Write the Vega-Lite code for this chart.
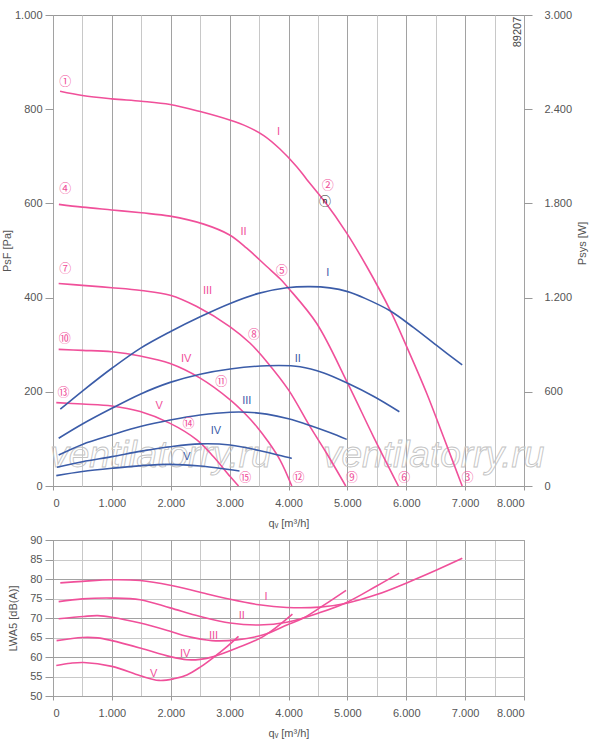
{
  "$schema": "https://vega.github.io/schema/vega-lite/v6.json",
  "padding": {"left": 0, "top": 8, "right": 5, "bottom": 5},
  "background": "white",
  "config": {
    "font": "Liberation Sans",
    "view": {"stroke": "#999", "strokeWidth": 1},
    "axis": {"labelFont": "Liberation Sans", "labelFontSize": 11, "labelColor": "#555", "titleFont": "Liberation Sans", "titleFontSize": 11, "titleFontWeight": "normal", "titleColor": "#555", "tickColor": "#999", "domain": false, "gridColor": "#c8c8c8"}
  },
  "datasets": {
    "pressure": [
      {"curve":"I","q":120,"p":838},{"curve":"I","q":500,"p":829},{"curve":"I","q":1000,"p":822},{"curve":"I","q":1500,"p":817},{"curve":"I","q":1990,"p":810},{"curve":"I","q":2500,"p":795},{"curve":"I","q":3000,"p":777},{"curve":"I","q":3300,"p":763},{"curve":"I","q":3580,"p":744},{"curve":"I","q":3850,"p":716},{"curve":"I","q":4140,"p":678},{"curve":"I","q":4310,"p":651},{"curve":"I","q":4536,"p":616},{"curve":"I","q":4621,"p":603},{"curve":"I","q":4989,"p":537},{"curve":"I","q":5329,"p":466},{"curve":"I","q":5724,"p":374},{"curve":"I","q":6007,"p":296},{"curve":"I","q":6347,"p":197},{"curve":"I","q":6630,"p":105},{"curve":"I","q":6950,"p":0},
      {"curve":"II","q":100,"p":598},{"curve":"II","q":500,"p":592},{"curve":"II","q":1000,"p":586},{"curve":"II","q":1500,"p":580},{"curve":"II","q":1990,"p":573},{"curve":"II","q":2560,"p":556},{"curve":"II","q":3000,"p":533},{"curve":"II","q":3290,"p":505},{"curve":"II","q":3631,"p":466},{"curve":"II","q":3857,"p":440},{"curve":"II","q":4000,"p":420},{"curve":"II","q":4480,"p":345},{"curve":"II","q":5006,"p":218},{"curve":"II","q":5442,"p":105},{"curve":"II","q":5866,"p":0},
      {"curve":"III","q":96,"p":430},{"curve":"III","q":500,"p":426},{"curve":"III","q":1000,"p":421},{"curve":"III","q":1500,"p":415},{"curve":"III","q":1990,"p":405},{"curve":"III","q":2443,"p":381},{"curve":"III","q":3009,"p":338},{"curve":"III","q":3349,"p":303},{"curve":"III","q":3631,"p":264},{"curve":"III","q":4000,"p":204},{"curve":"III","q":4366,"p":126},{"curve":"III","q":4650,"p":69},{"curve":"III","q":4972,"p":0},
      {"curve":"IV","q":96,"p":290},{"curve":"IV","q":500,"p":288},{"curve":"IV","q":1000,"p":285},{"curve":"IV","q":1482,"p":276},{"curve":"IV","q":1990,"p":260},{"curve":"IV","q":2500,"p":229},{"curve":"IV","q":3009,"p":183},{"curve":"IV","q":3250,"p":155},{"curve":"IV","q":3462,"p":126},{"curve":"IV","q":3650,"p":95},{"curve":"IV","q":3857,"p":55},{"curve":"IV","q":4056,"p":0},
      {"curve":"V","q":56,"p":177},{"curve":"V","q":500,"p":174},{"curve":"V","q":1000,"p":170},{"curve":"V","q":1482,"p":158},{"curve":"V","q":1990,"p":133},{"curve":"V","q":2443,"p":98},{"curve":"V","q":2727,"p":62},{"curve":"V","q":3009,"p":20},{"curve":"V","q":3151,"p":0}
    ],
    "power": [
      {"curve":"I","q":124,"w":489},{"curve":"I","q":521,"w":611},{"curve":"I","q":1000,"w":750},{"curve":"I","q":1482,"w":877},{"curve":"I","q":1990,"w":983},{"curve":"I","q":2500,"w":1078},{"curve":"I","q":3009,"w":1163},{"curve":"I","q":3490,"w":1227},{"curve":"I","q":3971,"w":1263},{"curve":"I","q":4366,"w":1270},{"curve":"I","q":4700,"w":1262},{"curve":"I","q":5006,"w":1238},{"curve":"I","q":5300,"w":1195},{"curve":"I","q":5724,"w":1116},{"curve":"I","q":6121,"w":1010},{"curve":"I","q":6516,"w":895},{"curve":"I","q":6950,"w":771},
      {"curve":"II","q":96,"w":304},{"curve":"II","q":500,"w":395},{"curve":"II","q":1000,"w":495},{"curve":"II","q":1482,"w":585},{"curve":"II","q":1990,"w":660},{"curve":"II","q":2500,"w":712},{"curve":"II","q":3009,"w":745},{"curve":"II","q":3631,"w":766},{"curve":"II","q":4197,"w":760},{"curve":"II","q":4600,"w":720},{"curve":"II","q":5006,"w":654},{"curve":"II","q":5450,"w":570},{"curve":"II","q":5883,"w":473},
      {"curve":"III","q":96,"w":197},{"curve":"III","q":500,"w":265},{"curve":"III","q":1000,"w":325},{"curve":"III","q":1500,"w":380},{"curve":"III","q":1990,"w":420},{"curve":"III","q":2500,"w":452},{"curve":"III","q":3009,"w":470},{"curve":"III","q":3300,"w":470},{"curve":"III","q":3631,"w":458},{"curve":"III","q":4000,"w":428},{"curve":"III","q":4366,"w":385},{"curve":"III","q":4700,"w":340},{"curve":"III","q":4989,"w":297},
      {"curve":"IV","q":68,"w":119},{"curve":"IV","q":500,"w":155},{"curve":"IV","q":1000,"w":187},{"curve":"IV","q":1500,"w":222},{"curve":"IV","q":1990,"w":250},{"curve":"IV","q":2500,"w":268},{"curve":"IV","q":3009,"w":261},{"curve":"IV","q":3575,"w":220},{"curve":"IV","q":4056,"w":176},
      {"curve":"V","q":56,"w":66},{"curve":"V","q":500,"w":92},{"curve":"V","q":1000,"w":113},{"curve":"V","q":1500,"w":130},{"curve":"V","q":1990,"w":138},{"curve":"V","q":2500,"w":127},{"curve":"V","q":3168,"w":96}
    ],
    "noise": [
      {"curve":"I","q":124,"db":79.0},{"curve":"I","q":500,"db":79.4},{"curve":"I","q":1000,"db":79.8},{"curve":"I","q":1482,"db":79.6},{"curve":"I","q":1990,"db":78.4},{"curve":"I","q":2500,"db":76.6},{"curve":"I","q":3009,"db":74.8},{"curve":"I","q":3500,"db":73.4},{"curve":"I","q":3971,"db":72.7},{"curve":"I","q":4535,"db":72.8},{"curve":"I","q":4989,"db":73.8},{"curve":"I","q":5498,"db":76.0},{"curve":"I","q":6007,"db":79.0},{"curve":"I","q":6516,"db":82.3},{"curve":"I","q":6952,"db":85.3},
      {"curve":"II","q":96,"db":74.2},{"curve":"II","q":500,"db":74.9},{"curve":"II","q":1000,"db":75.1},{"curve":"II","q":1482,"db":74.7},{"curve":"II","q":1990,"db":72.6},{"curve":"II","q":2500,"db":70.4},{"curve":"II","q":3009,"db":68.7},{"curve":"II","q":3500,"db":68.2},{"curve":"II","q":3971,"db":68.9},{"curve":"II","q":4535,"db":71.4},{"curve":"II","q":4989,"db":74.0},{"curve":"II","q":5498,"db":78.2},{"curve":"II","q":5880,"db":81.5},
      {"curve":"III","q":96,"db":69.8},{"curve":"III","q":521,"db":70.4},{"curve":"III","q":760,"db":70.6},{"curve":"III","q":1000,"db":70.2},{"curve":"III","q":1482,"db":68.7},{"curve":"III","q":1990,"db":66.6},{"curve":"III","q":2274,"db":65.3},{"curve":"III","q":2700,"db":64.2},{"curve":"III","q":3124,"db":64.4},{"curve":"III","q":3575,"db":65.7},{"curve":"III","q":3971,"db":68.2},{"curve":"III","q":4254,"db":70.0},{"curve":"III","q":4600,"db":73.3},{"curve":"III","q":4978,"db":77.1},
      {"curve":"IV","q":61,"db":64.2},{"curve":"IV","q":500,"db":65.0},{"curve":"IV","q":760,"db":64.9},{"curve":"IV","q":1000,"db":64.2},{"curve":"IV","q":1482,"db":62.3},{"curve":"IV","q":1990,"db":60.1},{"curve":"IV","q":2274,"db":59.3},{"curve":"IV","q":2500,"db":59.4},{"curve":"IV","q":2727,"db":60.1},{"curve":"IV","q":3124,"db":62.3},{"curve":"IV","q":3575,"db":65.3},{"curve":"IV","q":4067,"db":71.0},
      {"curve":"V","q":56,"db":57.8},{"curve":"V","q":300,"db":58.4},{"curve":"V","q":521,"db":58.6},{"curve":"V","q":1000,"db":57.6},{"curve":"V","q":1482,"db":55.2},{"curve":"V","q":1800,"db":54.0},{"curve":"V","q":2050,"db":54.4},{"curve":"V","q":2274,"db":55.4},{"curve":"V","q":2500,"db":57.4},{"curve":"V","q":2727,"db":59.9},{"curve":"V","q":2950,"db":62.6},{"curve":"V","q":3151,"db":65.3}
    ],
    "pcirc": [
      {"q":210,"p":858,"t":"①"},{"q":4666,"p":636,"t":"②"},{"q":7042,"p":18,"t":"③"},
      {"q":210,"p":631,"t":"④"},{"q":3886,"p":457,"t":"⑤"},{"q":5968,"p":18,"t":"⑥"},
      {"q":210,"p":460,"t":"⑦"},{"q":3416,"p":320,"t":"⑧"},{"q":5074,"p":18,"t":"⑨"},
      {"q":200,"p":312,"t":"⑩"},{"q":2856,"p":220,"t":"⑪"},{"q":4169,"p":18,"t":"⑫"},
      {"q":180,"p":197,"t":"⑬"},{"q":2303,"p":132,"t":"⑭"},{"q":3264,"p":18,"t":"⑮"}
    ],
    "eta": [{"q":4621,"p":604,"t":"ⓝ"}],
    "proman": [
      {"q":3830,"p":751,"t":"I"},{"q":3236,"p":540,"t":"II"},{"q":2625,"p":413,"t":"III"},{"q":2263,"p":270,"t":"IV"},{"q":1804,"p":170,"t":"V"}
    ],
    "wroman": [
      {"q":4666,"w":1359,"t":"I"},{"q":4157,"w":809,"t":"II"},{"q":3292,"w":541,"t":"III"},{"q":2766,"w":350,"t":"IV"},{"q":2274,"w":183,"t":"V"}
    ],
    "nroman": [
      {"q":3620,"db":75.5,"t":"I"},{"q":3207,"db":70.4,"t":"II"},{"q":2727,"db":65.4,"t":"III"},{"q":2245,"db":60.8,"t":"IV"},{"q":1709,"db":55.6,"t":"V"}
    ],
    "watermark": [
      {"q":1833,"p":40,"t":"ventilatorry.ru"},{"q":6466,"p":40,"t":"ventilatorry.ru"}
    ],
    "code": [{"q":7900,"p":964,"t":"89207"}]
  },
  "bounds": "flush",
  "spacing": 54,
  "vconcat": [
    {
      "width": 471,
      "height": 471,
      "encoding": {
        "x": {"field": "q", "type": "quantitative", "scale": {"domain": [0, 8000], "nice": false},
          "axis": {"values": [0,500,1000,1500,2000,2500,3000,3500,4000,4500,5000,5500,6000,6500,7000,7500,8000],
            "labelExpr": "datum.value % 1000 == 0 ? replace(format(datum.value, ','), ',', '.') : ''",
            "title": "qᵥ [m³/h]", "tickSize": 4, "labelPadding": 7, "titlePadding": 9,
            "gridColor": {"condition": {"test": "datum.value % 1000 == 0", "value": "#a2a2a2"}, "value": "#c8c8c8"},
            "tickOpacity": {"condition": {"test": "datum.value % 1000 != 0", "value": 0}, "value": 1}}}
      },
      "layer": [
        {
          "data": {"name": "watermark"},
          "mark": {"type": "text", "font": "Liberation Sans", "fontStyle": "italic", "fontSize": 37, "fill": "white", "fillOpacity": 0, "stroke": "#c4c4c4", "strokeWidth": 0.9, "align": "center", "baseline": "alphabetic"},
          "encoding": {"y": {"field": "p", "type": "quantitative", "scale": {"domain": [0, 1000], "nice": false}, "axis": null}, "text": {"field": "t"}}
        },
        {
          "data": {"name": "pressure"},
          "mark": {"type": "line", "color": "#f0509a", "strokeWidth": 1.6, "interpolate": "catmull-rom"},
          "encoding": {
            "y": {"field": "p", "type": "quantitative", "scale": {"domain": [0, 1000], "nice": false},
              "axis": {"orient": "left", "values": [0,100,200,300,400,500,600,700,800,900,1000],
                "labelExpr": "datum.value % 200 == 0 ? replace(format(datum.value, ','), ',', '.') : ''",
                "title": "PsF [Pa]", "tickSize": 8, "labelPadding": 3, "titlePadding": 2,
                "gridColor": {"condition": {"test": "datum.value % 200 == 0", "value": "#a2a2a2"}, "value": "#c8c8c8"},
                "tickOpacity": {"condition": {"test": "datum.value % 200 != 0", "value": 0}, "value": 1}}},
            "detail": {"field": "curve"}
          }
        },
        {
          "data": {"name": "power"},
          "mark": {"type": "line", "color": "#3b5ca8", "strokeWidth": 1.6, "interpolate": "catmull-rom"},
          "encoding": {
            "y": {"field": "w", "type": "quantitative", "scale": {"domain": [0, 3000], "nice": false},
              "axis": {"orient": "right", "values": [0,600,1200,1800,2400,3000],
                "labelExpr": "replace(format(datum.value, ','), ',', '.')",
                "grid": false, "tickSize": 8, "labelPadding": 12, "title": "Psys [W]", "titleAngle": 270, "titleBaseline": "top", "titlePadding": 5, "titleY": 228}},
            "detail": {"field": "curve"}
          }
        },
        {
          "data": {"name": "pcirc"},
          "mark": {"type": "text", "font": "Noto Sans CJK JP", "fontSize": 12, "color": "#f0509a", "align": "center", "baseline": "middle"},
          "encoding": {"y": {"field": "p", "type": "quantitative", "scale": {"domain": [0, 1000], "nice": false}, "axis": null}, "text": {"field": "t"}}
        },
        {
          "data": {"name": "eta"},
          "mark": {"type": "text", "font": "Noto Sans CJK JP", "fontSize": 12, "color": "#222", "align": "center", "baseline": "middle"},
          "encoding": {"y": {"field": "p", "type": "quantitative", "scale": {"domain": [0, 1000], "nice": false}, "axis": null}, "text": {"field": "t"}}
        },
        {
          "data": {"name": "proman"},
          "mark": {"type": "text", "font": "Liberation Sans", "fontSize": 11, "color": "#f0509a", "align": "center", "baseline": "middle"},
          "encoding": {"y": {"field": "p", "type": "quantitative", "scale": {"domain": [0, 1000], "nice": false}, "axis": null}, "text": {"field": "t"}}
        },
        {
          "data": {"name": "code"},
          "mark": {"type": "text", "font": "Liberation Sans", "fontSize": 11, "color": "#444", "align": "center", "baseline": "middle", "angle": 270},
          "encoding": {"y": {"field": "p", "type": "quantitative", "scale": {"domain": [0, 1000], "nice": false}, "axis": null}, "text": {"field": "t"}}
        },
        {
          "data": {"name": "wroman"},
          "mark": {"type": "text", "font": "Liberation Sans", "fontSize": 11, "color": "#3b5ca8", "align": "center", "baseline": "middle"},
          "encoding": {"y": {"field": "w", "type": "quantitative", "scale": {"domain": [0, 3000], "nice": false}, "axis": null}, "text": {"field": "t"}}
        }
      ],
      "resolve": {"scale": {"y": "independent"}}
    },
    {
      "width": 471,
      "height": 156,
      "encoding": {
        "x": {"field": "q", "type": "quantitative", "scale": {"domain": [0, 8000], "nice": false},
          "axis": {"values": [0,500,1000,1500,2000,2500,3000,3500,4000,4500,5000,5500,6000,6500,7000,7500,8000],
            "labelExpr": "datum.value % 1000 == 0 ? replace(format(datum.value, ','), ',', '.') : ''",
            "title": "qᵥ [m³/h]", "tickSize": 4, "labelPadding": 7, "titlePadding": 9,
            "gridColor": {"condition": {"test": "datum.value % 1000 == 0", "value": "#a2a2a2"}, "value": "#c8c8c8"},
            "tickOpacity": {"condition": {"test": "datum.value % 1000 != 0", "value": 0}, "value": 1}}},
        "y": {"field": "db", "type": "quantitative", "scale": {"domain": [50, 90], "nice": false},
          "axis": {"values": [50,55,60,65,70,75,80,85,90], "title": "LWA5 [dB(A)]", "tickSize": 8, "labelPadding": 3, "titlePadding": 11,
            "gridColor": {"condition": {"test": "datum.value % 10 == 0", "value": "#a2a2a2"}, "value": "#c8c8c8"}}}
      },
      "layer": [
        {
          "data": {"name": "noise"},
          "mark": {"type": "line", "color": "#f0509a", "strokeWidth": 1.6, "interpolate": "catmull-rom"},
          "encoding": {"detail": {"field": "curve"}}
        },
        {
          "data": {"name": "nroman"},
          "mark": {"type": "text", "font": "Liberation Sans", "fontSize": 11, "color": "#f0509a", "align": "center", "baseline": "middle"},
          "encoding": {"text": {"field": "t"}}
        }
      ]
    }
  ]
}
